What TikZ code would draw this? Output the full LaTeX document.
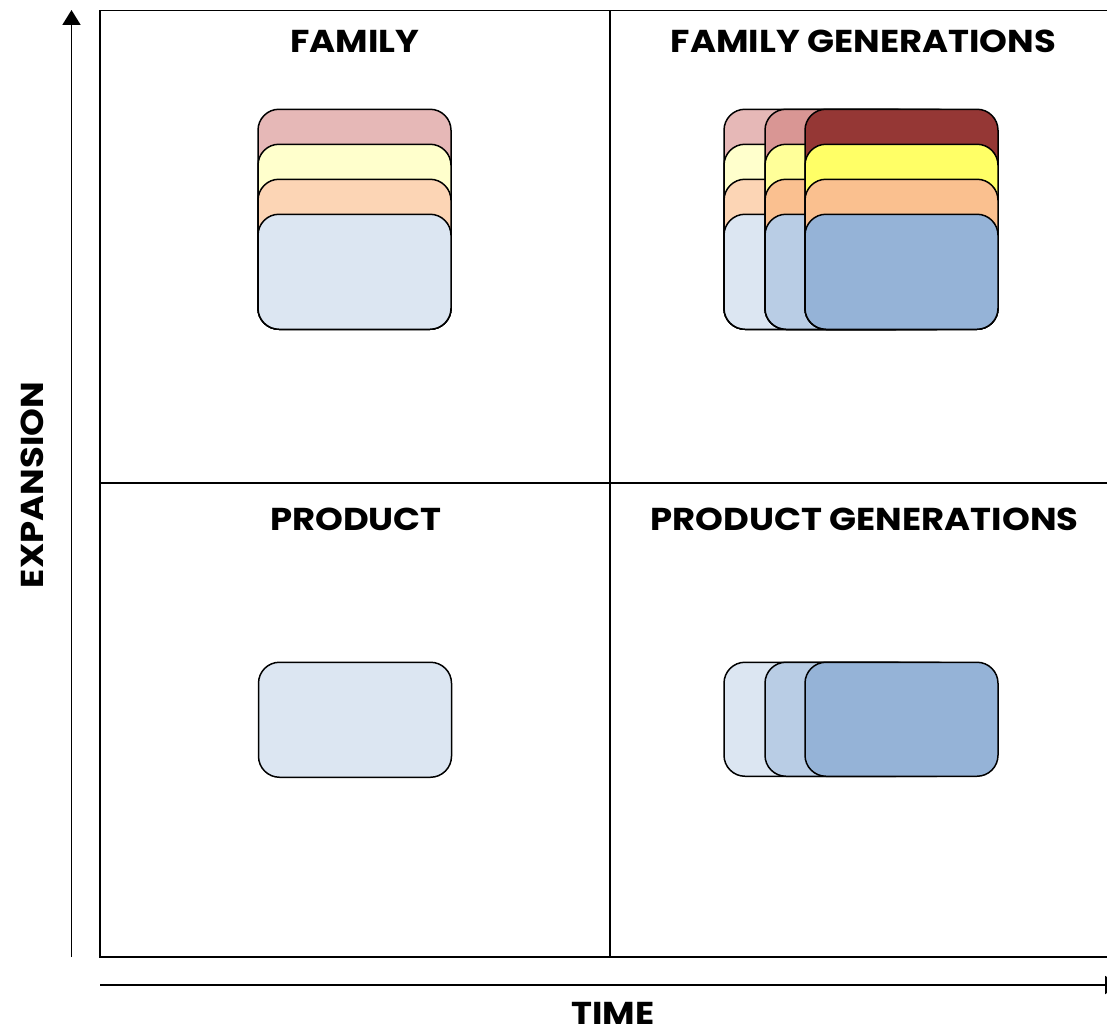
\documentclass[tikz,border=0pt]{standalone}
\usepackage{fontspec}
\setmainfont{Poppins}
\usepackage{tikz}
\usetikzlibrary{arrows.meta}

\definecolor{redA}{HTML}{E6B8B7}
\definecolor{redB}{HTML}{D99694}
\definecolor{redC}{HTML}{953735}
\definecolor{yelA}{HTML}{FFFFCC}
\definecolor{yelB}{HTML}{FFFF99}
\definecolor{yelC}{HTML}{FFFF66}
\definecolor{orgA}{HTML}{FCD5B5}
\definecolor{orgB}{HTML}{FAC090}
\definecolor{orgC}{HTML}{FAC08F}
\definecolor{bluA}{HTML}{DCE6F2}
\definecolor{bluB}{HTML}{B9CDE5}
\definecolor{bluC}{HTML}{95B3D7}

\begin{document}
\begin{tikzpicture}[
		card/.style={rectangle, draw, line width=0.85pt, rounded corners=0.42cm, inner sep=0pt, minimum width=3.86cm, anchor=south},
		title/.style={anchor=base, inner sep=0pt, font=\fontsize{18}{21}\selectfont\bfseries\addfontfeature{FakeStretch=1.12}},
		axis/.style={line width=1.1pt, -{Triangle[length=0.3cm, width=0.36cm]}}
	]
  \useasboundingbox (0,0) rectangle (22.14,-20.7);
  \clip (0,0) rectangle (22.14,-20.7);
  % quadrants
  \draw [line width=1.1pt] (2,-0.21) rectangle (22.4,-19.14);
  \draw [line width=1.1pt] (12.2,-0.21) -- (12.2,-19.14);
  \draw [line width=1.1pt] (2,-9.66) -- (22.4,-9.66);
  % axes
  \coordinate (y_0) at (1.43,-19.14);
  \coordinate (y_1) at (1.43,-0.2);
  \coordinate (x_0) at (2,-19.7);
  \coordinate (x_1) at (22.4,-19.7);
  \draw [axis] (y_0) -- (y_1);
  \draw [axis] (x_0) -- (x_1);
  \node (expansion) [title, rotate=90] at (0.86,-9.7) {EXPANSION};
  \node (time) [title] at (12.26,-20.48) {TIME};
  % titles
  \node (family) [title] at (7.1,-1.06) {FAMILY};
  \node (family_gen) [title] at (17.27,-1.06) {FAMILY GENERATIONS};
  \node (product) [title] at (7.12,-10.6) {PRODUCT};
  \node (product_gen) [title] at (17.29,-10.6) {PRODUCT GENERATIONS};
  % family
  \node (f_r) [card, fill=redA, minimum height=4.4cm] at (7.09,-6.6) {};
  \node (f_y) [card, fill=yelA, minimum height=3.7cm] at (7.09,-6.6) {};
  \node (f_o) [card, fill=orgA, minimum height=3.0cm] at (7.09,-6.6) {};
  \node (f_b) [card, fill=bluA, minimum height=2.3cm] at (7.09,-6.6) {};
  % family generations
  \node (g1_r) [card, fill=redA, minimum height=4.4cm] at (16.41,-6.6) {};
  \node (g1_y) [card, fill=yelA, minimum height=3.7cm] at (16.41,-6.6) {};
  \node (g1_o) [card, fill=orgA, minimum height=3.0cm] at (16.41,-6.6) {};
  \node (g1_b) [card, fill=bluA, minimum height=2.3cm] at (16.41,-6.6) {};
  \node (g2_r) [card, fill=redB, minimum height=4.4cm] at (17.23,-6.6) {};
  \node (g2_y) [card, fill=yelB, minimum height=3.7cm] at (17.23,-6.6) {};
  \node (g2_o) [card, fill=orgB, minimum height=3.0cm] at (17.23,-6.6) {};
  \node (g2_b) [card, fill=bluB, minimum height=2.3cm] at (17.23,-6.6) {};
  \node (g3_r) [card, fill=redC, minimum height=4.4cm] at (18.03,-6.6) {};
  \node (g3_y) [card, fill=yelC, minimum height=3.7cm] at (18.03,-6.6) {};
  \node (g3_o) [card, fill=orgC, minimum height=3.0cm] at (18.03,-6.6) {};
  \node (g3_b) [card, fill=bluC, minimum height=2.3cm] at (18.03,-6.6) {};
  % product
  \node (p_1) [card, fill=bluA, minimum height=2.3cm] at (7.1,-15.56) {};
  % product generations
  \node (q_1) [card, fill=bluA, minimum height=2.28cm] at (16.41,-15.54) {};
  \node (q_2) [card, fill=bluB, minimum height=2.28cm] at (17.23,-15.54) {};
  \node (q_3) [card, fill=bluC, minimum height=2.28cm] at (18.03,-15.54) {};
\end{tikzpicture}
\end{document}
